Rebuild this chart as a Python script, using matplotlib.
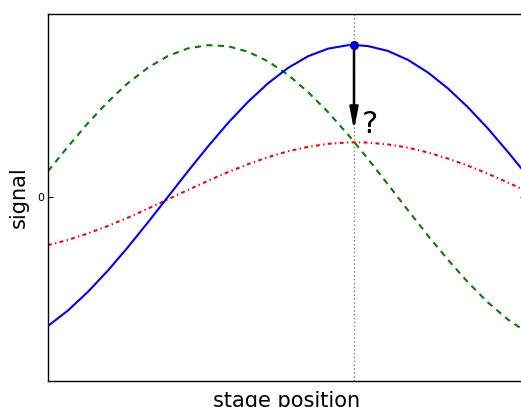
import matplotlib

matplotlib.use("Agg")
import matplotlib.pyplot as plt

plt.rcParams["lines.scale_dashes"] = False

# Values (x: stage position, y: signal, blue peak ~ 1)
xs = [0.0, 0.2, 0.4, 0.6, 0.8, 1.0, 1.2, 1.4, 1.6, 1.8, 2.0, 2.2, 2.4,
      2.6, 2.8, 3.0, 3.06, 3.2, 3.4, 3.6, 3.8, 4.0, 4.2, 4.4, 4.6, 4.8]

blue_y = [-0.848, -0.746, -0.623, -0.483, -0.329, -0.166, 0.002, 0.170, 0.333,
          0.487, 0.626, 0.748, 0.849, 0.926, 0.976, 0.999, 1.000, 0.993, 0.961,
          0.902, 0.819, 0.714, 0.590, 0.450, 0.296, 0.135]

green_y = [0.170, 0.332, 0.487, 0.627, 0.750, 0.851, 0.928, 0.978, 0.999,
           0.992, 0.956, 0.893, 0.804, 0.691, 0.559, 0.411, 0.364, 0.250, 0.083,
           -0.087, -0.254, -0.413, -0.561, -0.694, -0.806, -0.895]

red_y = [-0.316, -0.282, -0.239, -0.190, -0.135, -0.076, -0.015, 0.047, 0.107,
         0.164, 0.216, 0.262, 0.301, 0.330, 0.350, 0.359, 0.360, 0.358, 0.346,
         0.325, 0.293, 0.253, 0.206, 0.153, 0.095, 0.034]

peak_x = 3.06
peak_y = 1.00
arrow_end_y = 0.44

fig = plt.figure(figsize=(5.21, 4.07), dpi=100)
ax = fig.add_axes([48 / 521, 26 / 407, 477 / 521, 367 / 407])

ax.axvline(peak_x, color="0.5", lw=1.0, dashes=(1.0, 1.8))
ax.plot(xs, green_y, color="green", lw=1.5, dashes=(4.5, 3.8))
ax.plot(xs, red_y, color="red", lw=1.5, dashes=(2.8, 2.4, 1.0, 2.4))
ax.plot(xs, blue_y, color="blue", lw=1.5)
ax.plot([peak_x], [peak_y], "o", color="blue", mec="navy", ms=5.5, zorder=5)

ax.annotate("", xy=(peak_x, arrow_end_y), xytext=(peak_x, peak_y),
            arrowprops=dict(arrowstyle="-|>,head_length=1.3,head_width=0.25",
                            color="black", lw=1.8, shrinkA=0, shrinkB=0,
                            mutation_scale=10))
ax.text(3.14, 0.474, "?", fontsize=22, ha="left", va="center")

ax.set_xlim(0, 4.77)
ax.set_ylim(-1.21, 1.204)
ax.set_xticks([])
ax.set_yticks([0])
ax.set_yticklabels(["0"], fontsize=8)
ax.tick_params(axis="y", direction="in", length=3.5, left=True, right=True, pad=3)
for s in ax.spines.values():
    s.set_linewidth(1.0)

ax.set_xlabel("stage position", fontsize=15, labelpad=7.5)
ax.set_ylabel("signal", fontsize=15)
ax.yaxis.set_label_coords(-0.041, 0.5)

fig.savefig("out.png", dpi=100)
